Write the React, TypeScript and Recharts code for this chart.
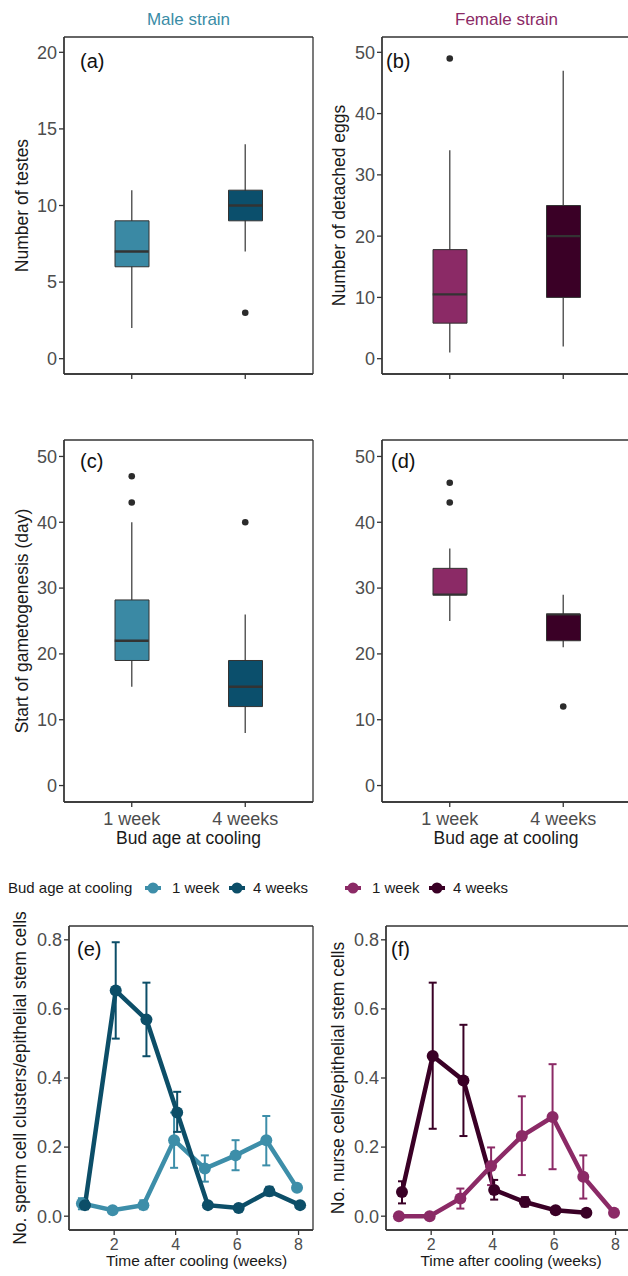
import React from 'react';
import { ComposedChart, Bar, Scatter, Line, XAxis, YAxis, Cell, ErrorBar, CartesianGrid } from 'recharts';

const FONT = '"Liberation Sans", Arial, Helvetica, sans-serif';
const AXIS = '#333333';
const TICK_TEXT = '#4d4d4d';

// ---------- Box plot data ----------
const boxCategories = ['1 week', '4 weeks'];
const maleColors = ['#3a89a4', '#0b4f6c'];
const femaleColors = ['#8b2a66', '#3a0026'];

// (a) Number of testes (male strain)
const testesLow = [2, 7];
const testesQ1 = [6, 9];
const testesMed = [7, 10];
const testesQ3 = [9, 11];
const testesHigh = [11, 14];
const testesOutliers = [[], [3]];

// (b) Number of detached eggs (female strain)
const eggsLow = [1, 2];
const eggsQ1 = [5.8, 10];
const eggsMed = [10.5, 20];
const eggsQ3 = [17.8, 25];
const eggsHigh = [34, 47];
const eggsOutliers = [[49], []];

// (c) Start of gametogenesis, male strain
const gamMaleLow = [15, 8];
const gamMaleQ1 = [19, 12];
const gamMaleMed = [22, 15];
const gamMaleQ3 = [28.2, 19];
const gamMaleHigh = [40, 26];
const gamMaleOutliers = [[43, 47], [40]];

// (d) Start of gametogenesis, female strain
const gamFemLow = [25, 21];
const gamFemQ1 = [29, 22];
const gamFemMed = [29, 26];
const gamFemQ3 = [33, 26];
const gamFemHigh = [36, 29];
const gamFemOutliers = [[43, 46], [12]];

// ---------- Time course data ----------
const weeks = [1, 2, 3, 4, 5, 6, 7, 8];
const xTicks = [2, 4, 6, 8];
const ratioTicks = [0, 0.2, 0.4, 0.6, 0.8];

// (e) sperm cell clusters / epithelial stem cells
const sperm1 = [0.037, 0.017, 0.032, 0.22, 0.138, 0.176, 0.22, 0.082];
const sperm1Lo = [0.02, 0.012, 0.02, 0.14, 0.1, 0.133, 0.147, 0.074];
const sperm1Hi = [0.052, 0.022, 0.046, 0.3, 0.176, 0.22, 0.29, 0.09];
const sperm4 = [0.032, 0.653, 0.569, 0.3, 0.032, 0.024, 0.072, 0.032];
const sperm4Lo = [0.02, 0.514, 0.463, 0.244, 0.026, 0.019, 0.06, 0.027];
const sperm4Hi = [0.045, 0.793, 0.676, 0.36, 0.038, 0.03, 0.085, 0.037];

// (f) nurse cells / epithelial stem cells
const nurse1 = [0, 0, 0.051, 0.145, 0.232, 0.287, 0.114, 0.01];
const nurse1Lo = [0, 0, 0.022, 0.09, 0.119, 0.136, 0.051, 0.006];
const nurse1Hi = [0, 0, 0.08, 0.199, 0.347, 0.44, 0.176, 0.014];
const nurse4 = [0.07, 0.464, 0.393, 0.076, 0.041, 0.017, 0.01, null];
const nurse4Lo = [0.037, 0.253, 0.232, 0.048, 0.028, 0.012, 0.006, null];
const nurse4Hi = [0.101, 0.676, 0.554, 0.105, 0.055, 0.022, 0.014, null];

const maleLine = ['#3d8ea9', '#0c4e68'];
const femaleLine = ['#8b2a66', '#3a0026'];

// ---------- builders ----------
function buildBoxRows(low: number[], q1: number[], med: number[], q3: number[], high: number[], outliers: number[][]) {
  return boxCategories.map((cat, i) => {
    const row: any = { cat, whisk: [low[i], high[i]], box: [q1[i], q3[i]], med: med[i] };
    for (let k = 0; k < 3; k++) row['o' + k] = outliers[i][k] ?? null;
    return row;
  });
}

function errOf(v: number | null, lo: number | null, hi: number | null) {
  if (v == null || lo == null || hi == null) return null;
  if (hi - lo <= 0) return null;
  return [v - lo, hi - v];
}

function buildLineRows(a: (number | null)[], aLo: (number | null)[], aHi: (number | null)[], b: (number | null)[], bLo: (number | null)[], bHi: (number | null)[]) {
  return weeks.map((t, i) => ({
    t,
    light: a[i],
    lightErr: errOf(a[i], aLo[i], aHi[i]),
    dark: b[i],
    darkErr: errOf(b[i], bLo[i], bHi[i]),
  }));
}

const rowsA = buildBoxRows(testesLow, testesQ1, testesMed, testesQ3, testesHigh, testesOutliers);
const rowsB = buildBoxRows(eggsLow, eggsQ1, eggsMed, eggsQ3, eggsHigh, eggsOutliers);
const rowsC = buildBoxRows(gamMaleLow, gamMaleQ1, gamMaleMed, gamMaleQ3, gamMaleHigh, gamMaleOutliers);
const rowsD = buildBoxRows(gamFemLow, gamFemQ1, gamFemMed, gamFemQ3, gamFemHigh, gamFemOutliers);
const rowsE = buildLineRows(sperm1, sperm1Lo, sperm1Hi, sperm4, sperm4Lo, sperm4Hi);
const rowsF = buildLineRows(nurse1, nurse1Lo, nurse1Hi, nurse4, nurse4Lo, nurse4Hi);

// ---------- shapes ----------
const medianShape = (p: any) => {
  if (!Number.isFinite(p.cx) || !Number.isFinite(p.cy)) return <g />;
  return <line x1={p.cx - 17} x2={p.cx + 17} y1={p.cy} y2={p.cy} stroke="#333333" strokeWidth={2.4} />;
};

const outlierShape = (key: string) => (p: any) => {
  if (p.payload == null || p.payload[key] == null || !Number.isFinite(p.cy)) return <g />;
  return <circle cx={p.cx} cy={p.cy} r={3.3} fill="#2b2b2b" />;
};

const emptyTick = () => <g />;

const axisLineStyle = { stroke: AXIS, strokeWidth: 1.3 };
const tickStyle = { fill: TICK_TEXT, fontSize: 18, fontFamily: FONT };
const smallTickStyle = { fill: TICK_TEXT, fontSize: 16, fontFamily: FONT };

// panel border drawn by the grid at the plot-area edges
const hEdges = (p: any) => [p.offset.top, p.offset.top + p.offset.height];
const vEdges = (p: any) => [p.offset.left, p.offset.left + p.offset.width];

function Frame({ xId, yId }: { xId: string; yId: string }) {
  return (
    <CartesianGrid
      xAxisId={xId}
      yAxisId={yId}
      stroke={AXIS}
      strokeWidth={1.3}
      fill="none"
      horizontalCoordinatesGenerator={hEdges}
      verticalCoordinatesGenerator={vEdges}
    />
  );
}

type BoxProps = {
  rows: any[];
  colors: string[];
  yDomain: [number, number];
  yTicks: number[];
  showXLabels: boolean;
  left: number;
  top: number;
  width: number;
  height: number;
  marginTop: number;
  marginRight: number;
  yWidth: number;
};

function BoxPanel(props: BoxProps) {
  const { rows, colors, yDomain, yTicks, showXLabels, left, top, width, height, marginTop, marginRight, yWidth } = props;
  const xh = showXLabels ? 30 : 20;
  return (
    <div style={{ position: 'absolute', left, top }}>
      <ComposedChart width={width} height={height} data={rows} margin={{ top: marginTop, right: marginRight, bottom: 0, left: 0 }}>
        <XAxis
          xAxisId="main"
          dataKey="cat"
          type="category"
          padding={{ left: 11, right: 11 }}
          height={xh}
          axisLine={axisLineStyle}
          tickLine={axisLineStyle}
          tickSize={5}
          tickMargin={5}
          interval={0}
          tick={showXLabels ? tickStyle : emptyTick}
        />
        <XAxis xAxisId="w" dataKey="cat" type="category" padding={{ left: 11, right: 11 }} height={0} hide />
        <YAxis
          yAxisId="y"
          type="number"
          domain={yDomain}
          ticks={yTicks}
          allowDataOverflow
          interval={0}
          width={yWidth}
          axisLine={axisLineStyle}
          tickLine={axisLineStyle}
          tickSize={5}
          tickMargin={2}
          tick={tickStyle}
        />
        <Frame xId="main" yId="y" />
        <Bar xAxisId="w" yAxisId="y" dataKey="whisk" barSize={1.5} fill="#5c5c5c" isAnimationActive={false} />
        <Bar xAxisId="main" yAxisId="y" dataKey="box" barSize={34} stroke="#333333" strokeWidth={1} isAnimationActive={false}>
          {rows.map((_r, i) => (
            <Cell key={i} fill={colors[i]} />
          ))}
        </Bar>
        <Scatter xAxisId="main" yAxisId="y" dataKey="med" shape={medianShape} isAnimationActive={false} />
        {['o0', 'o1', 'o2'].map((k) => (
          <Scatter key={k} xAxisId="main" yAxisId="y" dataKey={k} shape={outlierShape(k)} isAnimationActive={false} />
        ))}
      </ComposedChart>
    </div>
  );
}

type LineProps = {
  rows: any[];
  colors: string[];
  left: number;
  top: number;
  width: number;
  yWidth: number;
  marginRight: number;
  darkFirst: boolean;
};

function LinePanel(props: LineProps) {
  const { rows, colors, left, top, width, yWidth, marginRight, darkFirst } = props;
  const lightLine = (
    <Line
      key="light"
      xAxisId="l"
      yAxisId="y"
      dataKey="light"
      stroke={colors[0]}
      strokeWidth={4.5}
      dot={{ r: 6, fill: colors[0], stroke: colors[0], strokeWidth: 0 }}
      activeDot={false}
      isAnimationActive={false}
    >
      <ErrorBar dataKey="lightErr" width={4} strokeWidth={2} stroke={colors[0]} direction="y" />
    </Line>
  );
  const darkLine = (
    <Line
      key="dark"
      xAxisId="d"
      yAxisId="y"
      dataKey="dark"
      stroke={colors[1]}
      strokeWidth={4.5}
      dot={{ r: 6, fill: colors[1], stroke: colors[1], strokeWidth: 0 }}
      activeDot={false}
      isAnimationActive={false}
    >
      <ErrorBar dataKey="darkErr" width={4} strokeWidth={2} stroke={colors[1]} direction="y" />
    </Line>
  );
  return (
    <div style={{ position: 'absolute', left, top }}>
      <ComposedChart width={width} height={360} data={rows} margin={{ top: 26, right: marginRight, bottom: 0, left: 0 }}>
        <XAxis
          xAxisId="main"
          dataKey="t"
          type="number"
          domain={[0.53, 8.47]}
          ticks={xTicks}
          allowDataOverflow
          interval={0}
          height={30}
          axisLine={axisLineStyle}
          tickLine={axisLineStyle}
          tickSize={5}
          tickMargin={4}
          tick={smallTickStyle}
        />
        <XAxis xAxisId="l" dataKey="t" type="number" domain={[0.58, 8.52]} allowDataOverflow height={0} hide />
        <XAxis xAxisId="d" dataKey="t" type="number" domain={[0.48, 8.42]} allowDataOverflow height={0} hide />
        <YAxis
          yAxisId="y"
          type="number"
          domain={[-0.04, 0.84]}
          ticks={ratioTicks}
          allowDataOverflow
          interval={0}
          width={yWidth}
          axisLine={axisLineStyle}
          tickLine={axisLineStyle}
          tickSize={5}
          tickMargin={2}
          tick={tickStyle}
          tickFormatter={(v: number) => v.toFixed(1)}
        />
        <Frame xId="main" yId="y" />
        {darkFirst ? [darkLine, lightLine] : [lightLine, darkLine]}
      </ComposedChart>
    </div>
  );
}

function LegendKey({ x, y, color }: { x: number; y: number; color: string }) {
  return (
    <g>
      <line x1={x - 8} x2={x + 8} y1={y} y2={y} stroke={color} strokeWidth={4} />
      <circle cx={x} cy={y} r={5.5} fill={color} />
    </g>
  );
}

export default function App() {
  const titleStyle = { fontFamily: FONT, fontSize: 17.5, fill: '#1a1a1a' } as const;
  const panelLab = { fontFamily: FONT, fontSize: 20, fill: '#111111' } as const;
  const legendText = { fontFamily: FONT, fontSize: 15, fill: '#1a1a1a' } as const;
  return (
    <div style={{ position: 'absolute', left: 0, top: 0, width: 628, height: 1276, overflow: 'hidden', background: '#ffffff' }}>
      <BoxPanel rows={rowsA} colors={maleColors} yDomain={[-1, 21]} yTicks={[0, 5, 10, 15, 20]} showXLabels={false}
        left={0} top={0} width={320} height={394} marginTop={37} marginRight={7} yWidth={64} />
      <BoxPanel rows={rowsB} colors={femaleColors} yDomain={[-2.5, 52.5]} yTicks={[0, 10, 20, 30, 40, 50]} showXLabels={false}
        left={318} top={0} width={313} height={394} marginTop={37} marginRight={0} yWidth={64} />
      <BoxPanel rows={rowsC} colors={maleColors} yDomain={[-2.5, 52.5]} yTicks={[0, 10, 20, 30, 40, 50]} showXLabels={true}
        left={0} top={400} width={320} height={432} marginTop={40} marginRight={7} yWidth={64} />
      <BoxPanel rows={rowsD} colors={femaleColors} yDomain={[-2.5, 52.5]} yTicks={[0, 10, 20, 30, 40, 50]} showXLabels={true}
        left={318} top={400} width={313} height={432} marginTop={40} marginRight={0} yWidth={64} />
      <LinePanel rows={rowsE} colors={maleLine} left={0} top={900} width={320} yWidth={69} marginRight={7} darkFirst={false} />
      <LinePanel rows={rowsF} colors={femaleLine} left={318} top={900} width={312} yWidth={68} marginRight={0} darkFirst={true} />

      <svg width={628} height={1276} style={{ position: 'absolute', left: 0, top: 0, pointerEvents: 'none' }}>
        <text x={188.5} y={25} textAnchor="middle" style={{ fontFamily: FONT, fontSize: 17 }} fill="#3a8ca6">Male strain</text>
        <text x={506.5} y={25} textAnchor="middle" style={{ fontFamily: FONT, fontSize: 17 }} fill="#8b2a66">Female strain</text>

        <text x={80} y={67.5} style={panelLab}>(a)</text>
        <text x={386} y={67.5} style={panelLab}>(b)</text>
        <text x={80} y={467.5} style={panelLab}>(c)</text>
        <text x={391} y={467.5} style={panelLab}>(d)</text>
        <text x={77} y={956} style={panelLab}>(e)</text>
        <text x={391} y={956} style={panelLab}>(f)</text>

        <text transform="translate(28,205.5) rotate(-90)" textAnchor="middle" style={titleStyle}>Number of testes</text>
        <text transform="translate(344.5,205.5) rotate(-90)" textAnchor="middle" style={titleStyle}>Number of detached eggs</text>
        <text transform="translate(28,621) rotate(-90)" textAnchor="middle" style={titleStyle}>Start of gametogenesis (day)</text>
        <text transform="translate(25.5,1078) rotate(-90)" textAnchor="middle" style={titleStyle}>No. sperm cell clusters/epithelial stem cells</text>
        <text transform="translate(344,1078) rotate(-90)" textAnchor="middle" style={titleStyle}>No. nurse cells/epithelial stem cells</text>

        <text x={188.5} y={844} textAnchor="middle" style={titleStyle}>Bud age at cooling</text>
        <text x={506} y={844} textAnchor="middle" style={titleStyle}>Bud age at cooling</text>
        <text x={196.5} y={1266} textAnchor="middle" style={{ fontFamily: FONT, fontSize: 15.5, fill: '#1a1a1a' }}>Time after cooling (weeks)</text>
        <text x={511} y={1266} textAnchor="middle" style={{ fontFamily: FONT, fontSize: 15.5, fill: '#1a1a1a' }}>Time after cooling (weeks)</text>

        <text x={8} y={893} style={legendText}>Bud age at cooling</text>
        <LegendKey x={153} y={888} color={maleLine[0]} />
        <text x={172} y={893} style={legendText}>{boxCategories[0]}</text>
        <LegendKey x={237} y={888} color={maleLine[1]} />
        <text x={253} y={893} style={legendText}>{boxCategories[1]}</text>
        <LegendKey x={353} y={888} color={femaleLine[0]} />
        <text x={372} y={893} style={legendText}>{boxCategories[0]}</text>
        <LegendKey x={437} y={888} color={femaleLine[1]} />
        <text x={453} y={893} style={legendText}>{boxCategories[1]}</text>
      </svg>
    </div>
  );
}
